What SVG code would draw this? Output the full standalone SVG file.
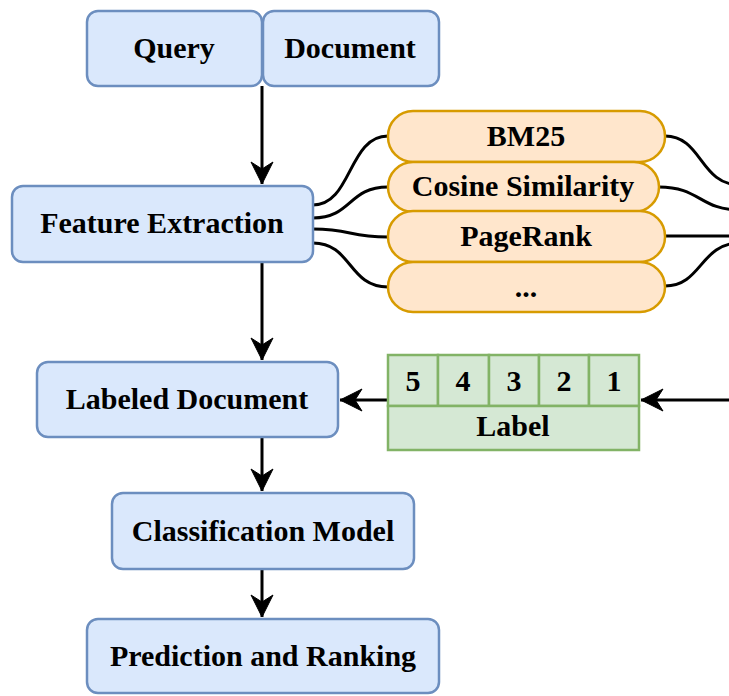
<svg xmlns="http://www.w3.org/2000/svg" width="729" height="696" viewBox="0 0 729 696">
  <style>
    .blue { fill: #dae8fc; stroke: #6c8ebf; stroke-width: 2.5; }
    .orange { fill: #ffe6cc; stroke: #d79b00; stroke-width: 2.5; }
    .green { fill: #d5e8d4; stroke: #82b366; stroke-width: 2.5; }
    .lbl { font-family: "Liberation Serif", "Times New Roman", serif; font-weight: bold; font-size: 30px; fill: #000; text-anchor: middle; }
    .wire { fill: none; stroke: #000; stroke-width: 3; }
  </style>
  <defs>
    <marker id="arrow" markerUnits="userSpaceOnUse" markerWidth="26" markerHeight="26" viewBox="-24 -13 26 26" refX="0" refY="0" orient="auto">
      <path d="M0,0 L-22,-11 L-15,0 L-22,11 Z" fill="#000" stroke="#000" stroke-width="1"/>
    </marker>
  </defs>

  <g id="connectors">
    <path class="wire" d="M262,86 L262,184" marker-end="url(#arrow)"/>
    <path class="wire" d="M262,262 L262,360" marker-end="url(#arrow)"/>
    <path class="wire" d="M262,437 L262,491" marker-end="url(#arrow)"/>
    <path class="wire" d="M262,569 L262,617" marker-end="url(#arrow)"/>
    <path class="wire" d="M387,400 L340,400" marker-end="url(#arrow)"/>
    <path class="wire" d="M735,400 L641,400" marker-end="url(#arrow)"/>
    <!-- feature extraction to feature pills -->
    <path class="wire" d="M313,205 C352,205 348,136 388,136"/>
    <path class="wire" d="M313,218 C352,218 348,187 388,187"/>
    <path class="wire" d="M313,229 C352,229 348,237 388,237"/>
    <path class="wire" d="M313,243 C352,243 348,287 388,287"/>
    <!-- pills to the right -->
    <path class="wire" d="M665,136 C702,136 700,185 740,185"/>
    <path class="wire" d="M659,187 C700,187 700,210 740,210"/>
    <path class="wire" d="M665,236 L740,236"/>
    <path class="wire" d="M665,286 C702,286 700,243 740,243"/>
  </g>

  <g id="query">
    <rect class="blue" x="87" y="11" width="175" height="75" rx="11"/>
    <text class="lbl" x="174" y="58">Query</text>
  </g>
  <g id="document">
    <rect class="blue" x="263" y="11" width="176" height="75" rx="11"/>
    <text class="lbl" x="350" y="58">Document</text>
  </g>
  <g id="feature-extraction">
    <rect class="blue" x="12" y="186" width="301" height="76" rx="11"/>
    <text class="lbl" x="162" y="233">Feature Extraction</text>
  </g>

  <g id="bm25">
    <rect class="orange" x="388" y="111" width="277" height="51" rx="25"/>
    <text class="lbl" x="526" y="146">BM25</text>
  </g>
  <g id="cosine-similarity">
    <rect class="orange" x="388" y="162" width="271" height="50" rx="25"/>
    <text class="lbl" x="523" y="196">Cosine Similarity</text>
  </g>
  <g id="pagerank">
    <rect class="orange" x="388" y="211" width="277" height="51" rx="25"/>
    <text class="lbl" x="526" y="246">PageRank</text>
  </g>
  <g id="more-features">
    <rect class="orange" x="388" y="262" width="277" height="50" rx="25"/>
    <text class="lbl" x="526" y="297">...</text>
  </g>

  <g id="labeled-document">
    <rect class="blue" x="37" y="362" width="301" height="75" rx="11"/>
    <text class="lbl" x="187" y="409">Labeled Document</text>
  </g>

  <g id="label">
    <rect class="green" x="388" y="355" width="50" height="51"/>
    <rect class="green" x="438" y="355" width="51" height="51"/>
    <rect class="green" x="489" y="355" width="50" height="51"/>
    <rect class="green" x="539" y="355" width="50" height="51"/>
    <rect class="green" x="589" y="355" width="50" height="51"/>
    <rect class="green" x="388" y="406" width="251" height="44"/>
    <text class="lbl" x="413" y="391">5</text>
    <text class="lbl" x="463" y="391">4</text>
    <text class="lbl" x="514" y="391">3</text>
    <text class="lbl" x="564" y="391">2</text>
    <text class="lbl" x="614" y="391">1</text>
    <text class="lbl" x="513" y="436">Label</text>
  </g>

  <g id="classification-model">
    <rect class="blue" x="112" y="493" width="302" height="76" rx="11"/>
    <text class="lbl" x="263" y="541">Classification Model</text>
  </g>
  <g id="prediction-ranking">
    <rect class="blue" x="87" y="619" width="352" height="74" rx="11"/>
    <text class="lbl" x="263" y="666">Prediction and Ranking</text>
  </g>
</svg>
